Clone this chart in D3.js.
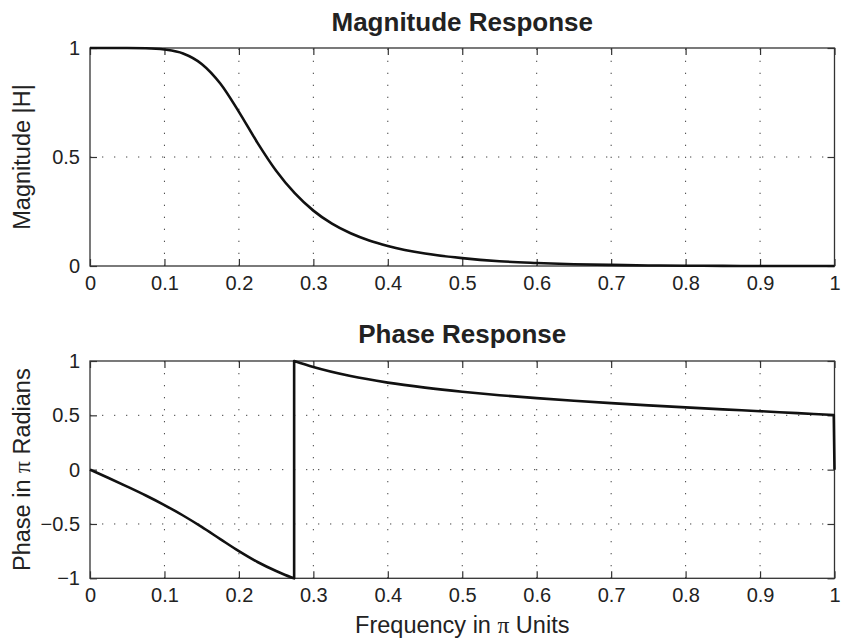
<!DOCTYPE html>
<html><head><meta charset="utf-8">
<script src="https://cdn.jsdelivr.net/npm/d3@7"></script>
<style>body{margin:0;background:#fff}svg{display:block}</style>
</head><body><svg id="c" width="842" height="641"></svg>
<script>
// ---- tick values / labels ----
const freqTicks = [0, 0.1, 0.2, 0.3, 0.4, 0.5, 0.6, 0.7, 0.8, 0.9, 1];
const freqTickLabels = ["0", "0.1", "0.2", "0.3", "0.4", "0.5", "0.6", "0.7", "0.8", "0.9", "1"];
const magTicks = [0, 0.5, 1];
const magTickLabels = ["0", "0.5", "1"];
const phaseTicks = [-1, -0.5, 0, 0.5, 1];
const phaseTickLabels = ["\u22121", "\u22120.5", "0", "0.5", "1"];

// ---- magnitude response ----
const magFreq = [0, 0.025, 0.05, 0.075, 0.1, 0.125, 0.15, 0.175, 0.2, 0.225, 0.25, 0.275, 0.3, 0.325, 0.35, 0.375, 0.4, 0.45, 0.5, 0.55, 0.6, 0.65, 0.7, 0.75, 0.8, 0.85, 0.9, 0.95, 1];
const magnitude = [1, 1, 1, 0.999, 0.993, 0.975, 0.927, 0.837, 0.707, 0.565, 0.437, 0.334, 0.254, 0.194, 0.150, 0.117, 0.092, 0.057, 0.036, 0.022, 0.014, 0.008, 0.005, 0.0025, 0.0012, 0.0005, 0.0001, 0, 0];

// ---- phase response in pi units ----
const phaseLowFreq = [0, 0.025, 0.05, 0.075, 0.1, 0.125, 0.15, 0.175, 0.2, 0.225, 0.25, 0.27, 0.2742];
const phaseLow = [0, -0.077, -0.156, -0.238, -0.326, -0.422, -0.527, -0.639, -0.750, -0.850, -0.933, -0.990, -1.0];
const phaseHighFreq = [0.2742, 0.3, 0.35, 0.4, 0.45, 0.5, 0.55, 0.6, 0.65, 0.7, 0.75, 0.8, 0.85, 0.9, 0.95, 0.999];
const phaseHigh = [1.0, 0.944, 0.861, 0.801, 0.755, 0.717, 0.685, 0.658, 0.634, 0.612, 0.592, 0.573, 0.555, 0.538, 0.520, 0.503];
const phaseEndFreq = [1];
const phaseEnd = [0];

const FONT = '"Liberation Sans", Arial, Helvetica, sans-serif';
const INK = "#222";
const svg = d3.select("#c");

const x = d3.scaleLinear().domain([0, 1]).range([90, 834.5]);
const L = x.range()[0], R = x.range()[1];

function panel(cfg) {
  const y = d3.scaleLinear().domain(cfg.domain).range([cfg.bottom, cfg.top]);
  const g = svg.append("g");

  // dotted grid
  const grid = g.append("g").attr("stroke", "#444").attr("stroke-width", 1)
    .attr("stroke-dasharray", "1.3,10.7").attr("fill", "none");
  freqTicks.slice(1, -1).forEach(t => {
    grid.append("line").attr("x1", x(t)).attr("x2", x(t))
      .attr("y1", cfg.bottom).attr("y2", cfg.top);
  });
  cfg.yTicks.slice(1, -1).forEach(t => {
    grid.append("line").attr("x1", L).attr("x2", R)
      .attr("y1", y(t)).attr("y2", y(t));
  });

  // axes with inward ticks
  const styleAxis = sel => {
    sel.select(".domain").remove();
    sel.selectAll(".tick line").attr("stroke", "#333").attr("stroke-width", 1.2);
    sel.selectAll("text").attr("font-family", FONT).attr("font-size", 20).attr("fill", INK);
  };
  g.append("g").attr("transform", `translate(0,${cfg.bottom})`)
    .call(d3.axisBottom(x).tickValues(freqTicks).tickSize(-7).tickPadding(10)
      .tickFormat((d, i) => freqTickLabels[i]))
    .call(styleAxis);
  g.append("g").attr("transform", `translate(0,${cfg.top})`)
    .call(d3.axisTop(x).tickValues(freqTicks).tickSize(-7).tickFormat(""))
    .call(styleAxis);
  g.append("g").attr("transform", `translate(${L},0)`)
    .call(d3.axisLeft(y).tickValues(cfg.yTicks).tickSize(-7).tickPadding(10)
      .tickFormat((d, i) => cfg.yLabels[i]))
    .call(styleAxis);
  g.append("g").attr("transform", `translate(${R},0)`)
    .call(d3.axisRight(y).tickValues(cfg.yTicks).tickSize(-7).tickFormat(""))
    .call(styleAxis);

  // box
  g.append("rect").attr("x", L).attr("y", cfg.top).attr("width", R - L)
    .attr("height", cfg.bottom - cfg.top).attr("fill", "none")
    .attr("stroke", "#333").attr("stroke-width", 1.3);

  // title
  g.append("text").attr("x", (L + R) / 2).attr("y", cfg.titleY)
    .attr("text-anchor", "middle").attr("font-family", FONT)
    .attr("font-size", 26).attr("font-weight", "bold").attr("fill", INK)
    .text(cfg.title);

  // y label
  const yl = g.append("text")
    .attr("transform", `translate(29.5,${(cfg.top + cfg.bottom) / 2}) rotate(-90)`)
    .attr("text-anchor", "middle").attr("font-family", FONT)
    .attr("font-size", 23.5).attr("fill", INK);
  cfg.ylabel.forEach(p => {
    const ts = yl.append("tspan").text(p.t);
    if (p.serif) ts.attr("font-family", '"Liberation Serif", "Times New Roman", serif');
  });
  return { g, y };
}

const magPanel = panel({
  top: 48, bottom: 266, domain: [0, 1], yTicks: magTicks, yLabels: magTickLabels,
  title: "Magnitude Response", titleY: 31,
  ylabel: [{ t: "Magnitude |H|" }]
});
const phasePanel = panel({
  top: 361, bottom: 578.3, domain: [-1, 1], yTicks: phaseTicks, yLabels: phaseTickLabels,
  title: "Phase Response", titleY: 343,
  ylabel: [{ t: "Phase in " }, { t: "\u03c0", serif: true }, { t: " Radians" }]
});

// magnitude curve
const magLine = d3.line().x(d => x(d[0])).y(d => magPanel.y(d[1])).curve(d3.curveMonotoneX);
magPanel.g.append("path").datum(d3.zip(magFreq, magnitude))
  .attr("d", magLine).attr("fill", "none").attr("stroke", "#111")
  .attr("stroke-width", 2.6).attr("stroke-linejoin", "round");

// phase curve (two branches joined by the wrap jumps)
const phLine = d3.line().x(d => x(d[0])).y(d => phasePanel.y(d[1])).curve(d3.curveMonotoneX);
const pLow = phLine(d3.zip(phaseLowFreq, phaseLow));
const pHigh = phLine(d3.zip(phaseHighFreq, phaseHigh)).replace(/^M/, "L");
const pEnd = "L" + x(phaseEndFreq[0]) + "," + phasePanel.y(phaseEnd[0]);
phasePanel.g.append("path").attr("d", pLow + pHigh + pEnd)
  .attr("fill", "none").attr("stroke", "#111")
  .attr("stroke-width", 2.6).attr("stroke-linejoin", "round");

// x label
const xl = svg.append("text").attr("x", (L + R) / 2).attr("y", 633)
  .attr("text-anchor", "middle").attr("font-family", FONT)
  .attr("font-size", 23.5).attr("fill", INK);
xl.append("tspan").text("Frequency in ");
xl.append("tspan").attr("font-family", '"Liberation Serif", "Times New Roman", serif').text("\u03c0");
xl.append("tspan").text(" Units");
</script></body></html>
